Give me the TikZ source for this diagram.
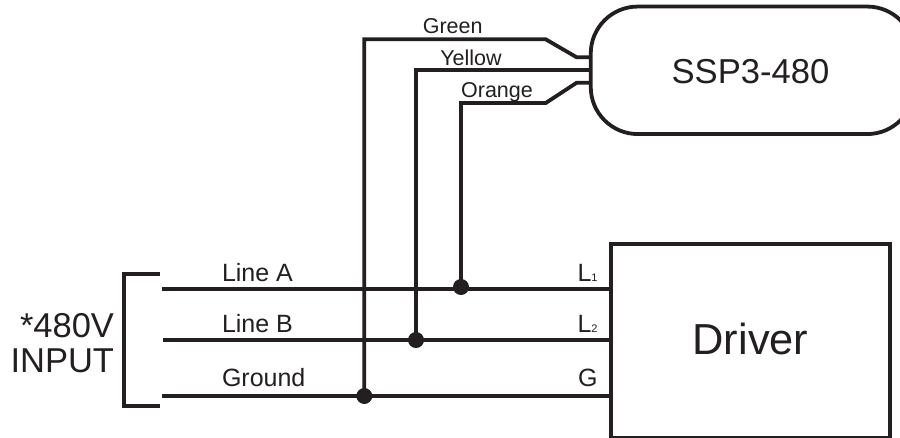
\documentclass[tikz,border=0pt]{standalone}
\usepackage{fontspec}
\setmainfont{Liberation Sans}
\definecolor{ink}{HTML}{231F20}
\newcommand{\fs}[1]{\fontsize{#1}{#1}\selectfont}
\tikzset{
  wire/.style={draw=ink,line width=3.8pt,line join=miter},
  box/.style={draw=ink,line width=3.8pt,fill=none,inner sep=0pt,outer sep=0pt},
  junction/.style={circle,fill=ink,minimum size=16pt,inner sep=0pt,outer sep=0pt},
  lab/.style={text=ink,inner sep=0pt,outer sep=0pt},
  wirelab/.style={lab,anchor=base,font=\fs{21.5}},
  linelab/.style={lab,anchor=base west,font=\fs{25}},
  bigslab/.style={lab,anchor=base east,font=\fs{34.5}},
}
\begin{document}
\begin{tikzpicture}[x=1pt,y=-1pt]
\clip (0,0) rectangle (900,437);
\fill[white] (0,0) rectangle (900,437);
% blocks
\node[box,rounded corners=47pt,minimum width=323.5pt,minimum height=127.5pt] (ssp) at (752.5,70.3) {};
\node[box,minimum width=279.3pt,minimum height=194.6pt] (driver) at (750.4,341) {};
\node[lab,anchor=base,font=\fs{34.6}] (ssptext) at (750.5,83.3) {SSP3-480};
\node[lab,anchor=base,font=\fs{43.4}] (drivertext) at (750.5,354.3) {Driver};
% line start points
\coordinate (a0) at (162,289);
\coordinate (b0) at (163,340);
\coordinate (c0) at (162,396);
% junctions
\node[junction] (ja) at (461,287) {};
\node[junction] (jb) at (416,340) {};
\node[junction] (jc) at (364.3,396) {};
% main lines
\draw[wire] (a0) -- (a0 -| driver.west);
\draw[wire] (b0) -- (b0 -| driver.west);
\draw[wire] (c0) -- (c0 -| driver.west);
% tap wires
\coordinate (g1) at (545.7,39.3);
\coordinate (g2) at (576.7,57.3);
\coordinate (o1) at (545.7,103);
\coordinate (o2) at (576.7,82.7);
\coordinate (y1) at (416,70.3);
\draw[wire] (jc.center) |- (g1) -- (g2) -- (g2 -| ssp.west);
\draw[wire] (jb.center) -- (y1) -- (y1 -| ssp.west);
\draw[wire] (ja.center) |- (o1) -- (o2) -- (o2 -| ssp.west);
% input bracket
\coordinate (br1) at (160,273.7);
\coordinate (br2) at (124.3,273.7);
\coordinate (br3) at (124.3,405.7);
\coordinate (br4) at (160,405.7);
\draw[wire] (br1) -- (br2) -- (br3) -- (br4);
% labels
\node[wirelab] (lgreen) at (452.7,33.2) {Green};
\node[wirelab] (lyellow) at (471,65) {Yellow};
\node[wirelab] (lorange) at (497,97) {Orange};
\node[linelab] (lla) at (222,281.5) {Line A};
\node[linelab] (llb) at (222,332.3) {Line B};
\node[linelab] (lgr) at (222,386.7) {Ground};
\node[linelab] (l1) at (577.5,281.5) {L\raisebox{0pt}{\fs{11}1}};
\node[linelab] (l2) at (577.5,332) {L\raisebox{0pt}{\fs{11}2}};
\node[linelab] (lg) at (578,386.7) {G};
\node[bigslab] (v480) at (114,337.7) {*480V};
\node[bigslab] (vin) at (114,372.7) {INPUT};
\end{tikzpicture}
\end{document}
